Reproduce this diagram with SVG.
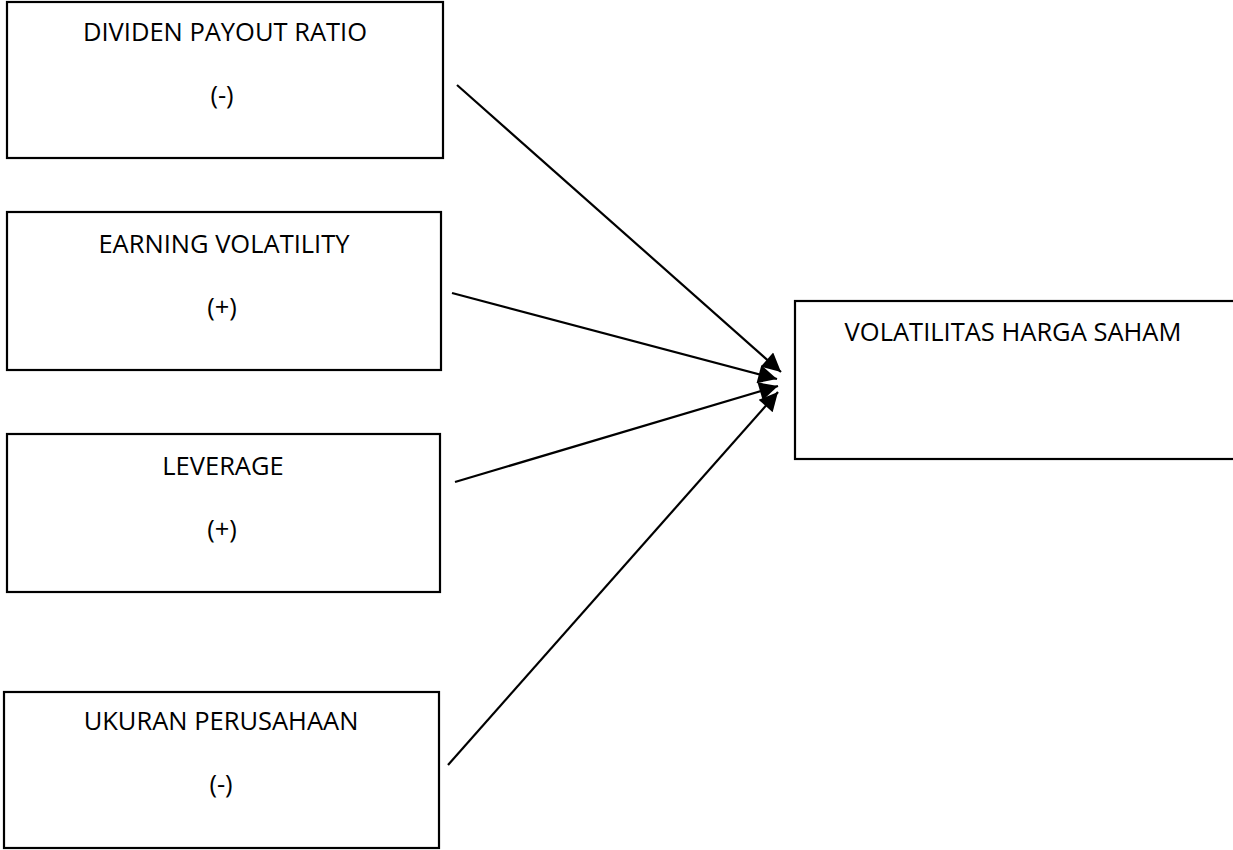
<svg xmlns="http://www.w3.org/2000/svg" width="1233" height="850" viewBox="0 0 1233 850">
<defs>
<style>
.box{fill:#fff;stroke:#000;stroke-width:2.2}
.t{font-family:"Open Sans","Liberation Sans",sans-serif;font-size:25.5px;fill:#000;text-anchor:middle}
.c{stroke:#000;stroke-width:2.2;fill:none}
</style>
<marker id="ah" viewBox="0 0 10 10" refX="10" refY="5" markerWidth="9.5" markerHeight="8.5" markerUnits="strokeWidth" orient="auto">
<path d="M0,0 L10,5 L0,10 z" fill="#000"/>
</marker>
</defs>
<rect width="1233" height="850" fill="#fff"/>
<g id="n1">
<rect class="box" x="7" y="2" width="436" height="156"/>
<text class="t" x="225" y="41">DIVIDEN PAYOUT RATIO</text>
<text class="t" x="222" y="104">(-)</text>
</g>
<g id="n2">
<rect class="box" x="7" y="212" width="434" height="158"/>
<text class="t" x="224" y="253">EARNING VOLATILITY</text>
<text class="t" x="222" y="316">(+)</text>
</g>
<g id="n3">
<rect class="box" x="7" y="434" width="433" height="158"/>
<text class="t" x="223" y="475">LEVERAGE</text>
<text class="t" x="222" y="538">(+)</text>
</g>
<g id="n4">
<rect class="box" x="4" y="692" width="435" height="156"/>
<text class="t" x="221" y="730">UKURAN PERUSAHAAN</text>
<text class="t" x="221" y="793">(-)</text>
</g>
<g id="target">
<rect class="box" x="795" y="301" width="440" height="158"/>
<text class="t" x="1013" y="341">VOLATILITAS HARGA SAHAM</text>
</g>
<g id="connectors">
<line class="c" x1="457" y1="85" x2="781" y2="372" marker-end="url(#ah)"/>
<line class="c" x1="452" y1="293" x2="777" y2="379" marker-end="url(#ah)"/>
<line class="c" x1="455" y1="482" x2="778" y2="386" marker-end="url(#ah)"/>
<line class="c" x1="448" y1="765" x2="778" y2="392" marker-end="url(#ah)"/>
</g>
</svg>
